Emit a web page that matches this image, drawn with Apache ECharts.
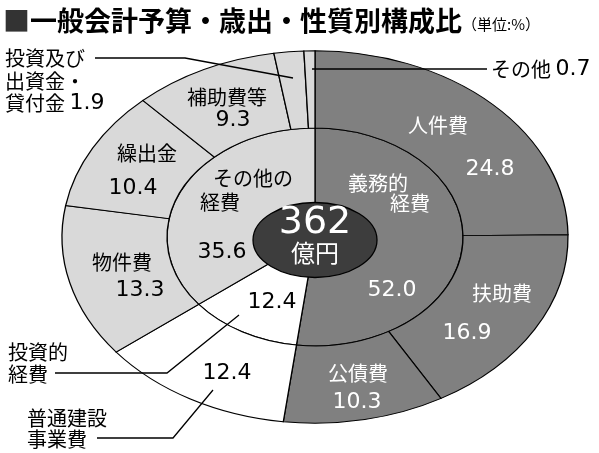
<!DOCTYPE html>
<html>
<head>
<meta charset="utf-8">
<script src="https://cdn.jsdelivr.net/npm/echarts@6/dist/echarts.min.js"></script>
<style>
html,body{margin:0;padding:0;background:#fff;}
#chart{width:599px;height:453px;}
</style>
</head>
<body>
<div id="chart"></div>
<script>
// ---- data ----
const innerNames = ['義務的経費', '投資的経費', 'その他の経費'];
const innerValues = [52.0, 12.4, 35.6];
const outerNames = ['人件費', '扶助費', '公債費', '普通建設事業費', '物件費', '繰出金', '補助費等', '投資及び出資金・貸付金', 'その他'];
const outerValues = [24.8, 16.9, 10.3, 12.4, 13.3, 10.4, 9.3, 1.9, 0.7];
const outerGroup = [0, 0, 0, 1, 2, 2, 2, 2, 2];
const totalValue = 362;
const totalUnit = '億円';

// ---- style / layout ----
const GROUP_COLORS = ['#808080', '#ffffff', '#d9d9d9'];
const CENTER_COLOR = '#3d3d3d';
const CENTER = [315, 237];
const OUTER_R = 253, SPLIT_R = 148, CORE_R = 62;
const SCALE_Y = 0.736, CORE_SCALE_Y = 0.605, CORE_DY = 3;
const CJK = '"Noto Sans CJK JP", sans-serif';
const NUM = '"DejaVu Sans", sans-serif';

// build series data from arrays: [start, end, ring, group]
const seriesData = [];
let acc = 0;
innerValues.forEach((v, i) => {
  seriesData.push({ name: innerNames[i], value: [acc, acc + v, 0, i] });
  acc += v;
});
acc = 0;
outerValues.forEach((v, i) => {
  seriesData.push({ name: outerNames[i], value: [acc, acc + v, 1, outerGroup[i]] });
  acc += v;
});
seriesData.push({ name: 'total', value: [0, 100, 2, -1] });

function renderItem(params, api) {
  const cs = params.coordSys;
  const cx = cs.cx, cy = cs.cy;
  const start = api.value(0), end = api.value(1), ring = api.value(2), group = api.value(3);
  const dist = (p) => Math.hypot(p[0] - cx, p[1] - cy);
  if (ring === 2) {
    const pr = api.coord([CORE_R, 0]);
    const rr = dist(pr);
    return {
      type: 'ellipse',
      shape: { cx: cx, cy: cy + CORE_DY, rx: rr, ry: rr * CORE_SCALE_Y },
      style: { fill: CENTER_COLOR, stroke: '#000', lineWidth: 1.3 },
      z2: 10
    };
  }
  const rIn = ring === 0 ? 0 : SPLIT_R;
  const rOut = ring === 0 ? SPLIT_R : OUTER_R;
  const pA = api.coord([rOut, start]);
  const pB = api.coord([rOut, end]);
  const pI = api.coord([rIn, start]);
  let a0 = Math.atan2(pA[1] - cy, pA[0] - cx);
  let a1 = Math.atan2(pB[1] - cy, pB[0] - cx);
  while (a1 <= a0 + 1e-9) a1 += 2 * Math.PI;
  return {
    type: 'sector',
    x: cx, y: cy,
    scaleY: SCALE_Y,
    shape: { cx: 0, cy: 0, r0: dist(pI), r: dist(pA), startAngle: a0, endAngle: a1, clockwise: true },
    style: { fill: GROUP_COLORS[group], stroke: '#000', lineWidth: 1.3, strokeNoScale: true },
    z2: ring
  };
}

function T(text, x, y, size, family, color, align) {
  return {
    type: 'text', x: x, y: y, z: 100,
    style: {
      text: text, fill: color || '#000',
      font: size + 'px ' + family,
      textAlign: align || 'center', textVerticalAlign: 'middle',
      align: align || 'center', verticalAlign: 'middle'
    }
  };
}
function R(text, x, y, color) {
  return {
    type: 'text', x: x, y: y, z: 100,
    style: {
      text: text, fill: color || '#000',
      textAlign: 'left', textVerticalAlign: 'middle',
      align: 'left', verticalAlign: 'middle',
      rich: {
        a: { font: '20px ' + CJK, fill: color || '#000' },
        n: { font: '22px ' + NUM, fill: color || '#000' }
      }
    }
  };
}
function L(points) {
  return { type: 'polyline', z: 90, shape: { points: points }, style: { stroke: '#000', lineWidth: 1.3, fill: null } };
}
const f = (v) => v.toFixed(1);
const W = '#ffffff';

const graphics = [
  { type: 'text', x: 3, y: 21, z: 100,
    style: { text: '{s|■}{t|一般会計予算・歳出・性質別構成比}', textVerticalAlign: 'middle', verticalAlign: 'middle',
      rich: { s: { font: 'bold 27px ' + CJK, fill: '#333' }, t: { font: 'bold 27px ' + CJK, fill: '#000' } } } },
  T('（単位:%）', 462, 24, 15, CJK, '#000', 'left'),
  // outer ring labels
  T(outerNames[0], 438, 125, 20, CJK, W), T(f(outerValues[0]), 490, 169, 22, NUM, W),
  T(outerNames[1], 502, 293, 20, CJK, W), T(f(outerValues[1]), 467, 333, 22, NUM, W),
  T(outerNames[2], 358, 373, 20, CJK, W), T(f(outerValues[2]), 357, 402, 22, NUM, W),
  T(f(outerValues[3]), 227, 373, 22, NUM),
  T(outerNames[4], 122, 262, 20, CJK), T(f(outerValues[4]), 140, 290, 22, NUM),
  T(outerNames[5], 147, 153, 20, CJK), T(f(outerValues[5]), 133, 188, 22, NUM),
  T(outerNames[6], 227, 97, 20, CJK), T(f(outerValues[6]), 233, 120, 22, NUM),
  // inner ring labels
  T('義務的', 378, 183, 20, CJK, W), T('経費', 410, 203, 20, CJK, W), T(f(innerValues[0]), 392, 290, 22, NUM, W),
  T(f(innerValues[1]), 272, 302, 22, NUM),
  T('その他の', 253, 178, 20, CJK), T('経費', 220, 202, 20, CJK), T(f(innerValues[2]), 222, 252, 22, NUM),
  // outside labels
  T('投資及び', 5, 58, 20, CJK, '#000', 'left'),
  T('出資金・', 5, 81, 20, CJK, '#000', 'left'),
  R('{a|貸付金 }{n|' + f(outerValues[7]) + '}', 5, 103),
  R('{a|その他 }{n|' + f(outerValues[8]) + '}', 491, 69),
  T('投資的', 8, 352, 20, CJK, '#000', 'left'),
  T('経費', 8, 374, 20, CJK, '#000', 'left'),
  T('普通建設', 27, 418, 20, CJK, '#000', 'left'),
  T('事業費', 27, 439, 20, CJK, '#000', 'left'),
  // leader lines
  L([[95, 58], [185, 58], [293, 78]]),
  L([[312, 69], [487, 69]]),
  L([[55, 373], [167, 373], [239, 315]]),
  L([[97, 438], [173, 438], [213, 390]]),
  // center total
  T(String(totalValue), 315, 223, 38, NUM, W),
  T(totalUnit, 315, 253, 24, CJK, W)
];

const chart = echarts.init(document.getElementById('chart'), null, { renderer: 'canvas' });
chart.setOption({
  animation: false,
  backgroundColor: '#ffffff',
  polar: { center: CENTER, radius: OUTER_R },
  angleAxis: { type: 'value', min: 0, max: 100, startAngle: 90, clockwise: true, show: false },
  radiusAxis: { type: 'value', min: 0, max: OUTER_R, show: false },
  series: [{
    type: 'custom',
    coordinateSystem: 'polar',
    renderItem: renderItem,
    data: seriesData,
    silent: true
  }],
  graphic: { elements: graphics }
});
</script>
</body>
</html>
